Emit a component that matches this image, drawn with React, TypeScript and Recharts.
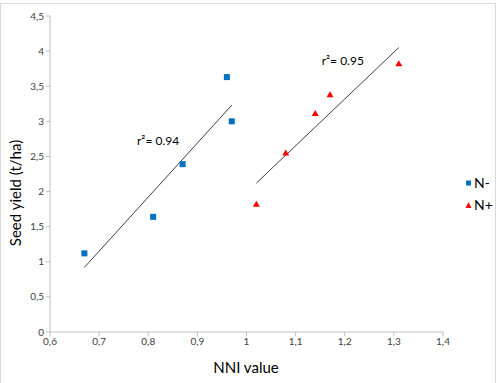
import { ScatterChart, Scatter, XAxis, YAxis, ReferenceLine, ReferenceDot } from 'recharts'

// NNI value vs seed yield
const nMinusX = [0.67, 0.81, 0.87, 0.96, 0.97]
const nMinusY = [1.12, 1.64, 2.39, 3.63, 3.0]
const nPlusX = [1.02, 1.08, 1.14, 1.17, 1.31]
const nPlusY = [1.82, 2.55, 3.11, 3.38, 3.82]

// trend line end points
const trendMinus = [{ x: 0.67, y: 0.92 }, { x: 0.97, y: 3.23 }]
const trendPlus = [{ x: 1.02, y: 2.12 }, { x: 1.31, y: 4.05 }]

const xTicks = [0.6, 0.7, 0.8, 0.9, 1, 1.1, 1.2, 1.3, 1.4]
const yTicks = [0, 0.5, 1, 1.5, 2, 2.5, 3, 3.5, 4, 4.5]

const seriesNames = ['N-', 'N+']
const seriesColors = ['#0070C0', '#FF0000']
const r2Labels = [
  { x: 0.82, y: 2.72, text: 'r²= 0.94' },
  { x: 1.196, y: 3.86, text: 'r²= 0.95' },
]

const FONT = 'Lato, "Liberation Sans", sans-serif'

const toPoints = (xs: number[], ys: number[]) => xs.map((x, i) => ({ x, y: ys[i] }))
const comma = (v: number) => String(v).replace('.', ',')

const Square = (props: any) => {
  const { cx, cy, fill } = props
  return <rect x={cx - 3} y={cy - 3} width={6} height={6} fill={fill} />
}

const Triangle = (props: any) => {
  const { cx, cy, fill } = props
  return <polygon points={`${cx},${cy - 3.5} ${cx + 3.5},${cy + 2.5} ${cx - 3.5},${cy + 2.5}`} fill={fill} />
}

// legend drawn next to the chart, like the spreadsheet one
const LegendBox = () => (
  <div
    style={{
      position: 'absolute', left: 465, top: 172,
      fontFamily: FONT, fontSize: 14, color: '#000', lineHeight: '22px',
    }}
  >
    {seriesNames.map((name, i) => (
      <div key={name} style={{ display: 'flex', alignItems: 'center' }}>
        <svg width={7} height={8} style={{ marginRight: 2 }}>
          {i === 0 ? (
            <rect x={1} y={1.5} width={5} height={5} fill={seriesColors[i]} />
          ) : (
            <polygon points="3.5,1 6.5,7 0.5,7" fill={seriesColors[i]} />
          )}
        </svg>
        <span>{name}</span>
      </div>
    ))}
  </div>
)

export default function App() {
  return (
    <div style={{ position: 'relative', width: 500, height: 383, background: '#fff', overflow: 'hidden' }}>
      <style>{`body{margin:0}`}</style>
      <div
        style={{
          position: 'absolute', left: 0, top: 3, width: 496, height: 400,
          border: '1px solid #d9d9d9', boxSizing: 'border-box',
        }}
      />
      <ScatterChart
        width={500}
        height={383}
        margin={{ top: 16, right: 57, bottom: 21, left: 10 }}
        style={{ position: 'absolute', left: 0, top: 0 }}
      >
        <XAxis
          type="number"
          dataKey="x"
          domain={[0.6, 1.4]}
          ticks={xTicks}
          tickFormatter={comma}
          height={30}
          stroke="#bfbfbf"
          tickSize={4}
          tick={{ fill: '#404040', fontSize: 10, fontFamily: FONT }}
          label={{
            content: () => (
              <text x={246} y={373} textAnchor="middle" fontSize={15} fontFamily={FONT} fill="#000">
                NNI value
              </text>
            ),
          }}
        />
        <YAxis
          type="number"
          dataKey="y"
          domain={[0, 4.5]}
          ticks={yTicks}
          tickFormatter={comma}
          width={40}
          stroke="#bfbfbf"
          tickSize={4}
          tick={{ fill: '#404040', fontSize: 10, fontFamily: FONT }}
          label={{
            content: () => (
              <text
                x={21}
                y={193}
                transform="rotate(-90 21 193)"
                textAnchor="middle"
                fontSize={15}
                fontFamily={FONT}
                fill="#000"
              >
                Seed yield (t/ha)
              </text>
            ),
          }}
        />
        <ReferenceLine segment={trendMinus} stroke="#404040" strokeWidth={1} />
        <ReferenceLine segment={trendPlus} stroke="#404040" strokeWidth={1} />
        {r2Labels.map((l) => (
          <ReferenceDot
            key={l.text}
            x={l.x}
            y={l.y}
            r={0}
            stroke="none"
            label={{ value: l.text, position: 'center', fontSize: 12, fontFamily: FONT, fill: '#000' }}
          />
        ))}
        <Scatter
          name={seriesNames[0]}
          data={toPoints(nMinusX, nMinusY)}
          fill={seriesColors[0]}
          shape={Square}
          isAnimationActive={false}
        />
        <Scatter
          name={seriesNames[1]}
          data={toPoints(nPlusX, nPlusY)}
          fill={seriesColors[1]}
          shape={Triangle}
          isAnimationActive={false}
        />
      </ScatterChart>
      <LegendBox />
    </div>
  )
}
